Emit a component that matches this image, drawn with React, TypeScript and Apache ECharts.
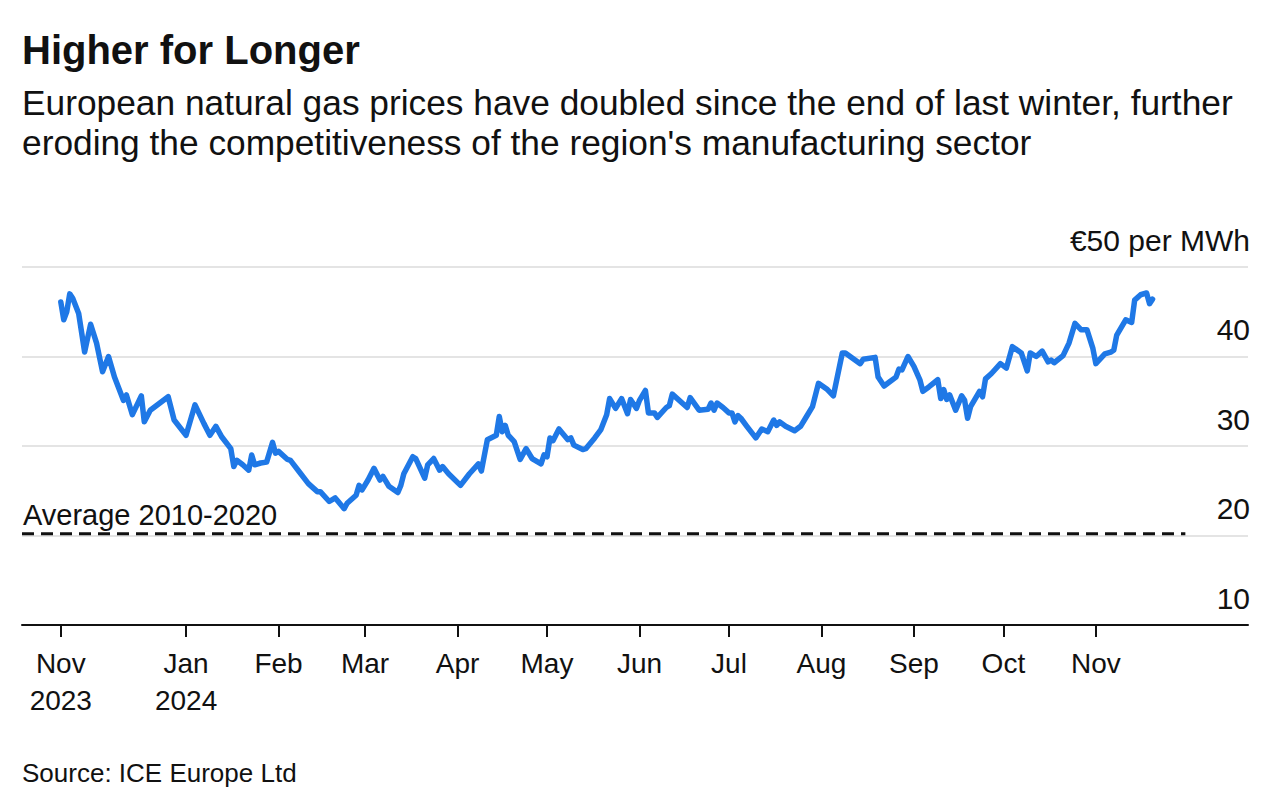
import React, { useEffect, useRef } from "react";
import * as echarts from "echarts";

const TITLE = "Higher for Longer";
const SUBTITLE_1 = "European natural gas prices have doubled since the end of last winter, further";
const SUBTITLE_2 = "eroding the competitiveness of the region's manufacturing sector";
const SOURCE = "Source: ICE Europe Ltd";
const AVERAGE_LABEL = "Average 2010-2020";

const dates = [
  "2023-11-20","2023-11-21","2023-11-22","2023-11-23","2023-11-24","2023-11-26","2023-11-28","2023-11-30",
  "2023-12-02","2023-12-04","2023-12-06","2023-12-08","2023-12-11","2023-12-12","2023-12-14","2023-12-17",
  "2023-12-18","2023-12-20","2023-12-26","2023-12-28",
  "2024-01-01","2024-01-04","2024-01-07","2024-01-09","2024-01-11","2024-01-13","2024-01-16","2024-01-17",
  "2024-01-18","2024-01-20","2024-01-22","2024-01-23","2024-01-24","2024-01-26","2024-01-28","2024-01-30","2024-01-31",
  "2024-02-01","2024-02-04","2024-02-05","2024-02-08","2024-02-11","2024-02-14","2024-02-15","2024-02-18",
  "2024-02-20","2024-02-21","2024-02-23","2024-02-24","2024-02-27","2024-02-28","2024-02-29",
  "2024-03-02","2024-03-04","2024-03-06","2024-03-07","2024-03-09","2024-03-12","2024-03-13","2024-03-14",
  "2024-03-17","2024-03-18","2024-03-21","2024-03-22","2024-03-24","2024-03-26","2024-03-27","2024-03-29",
  "2024-04-02","2024-04-05","2024-04-08","2024-04-09","2024-04-11","2024-04-14","2024-04-15","2024-04-16",
  "2024-04-17","2024-04-18","2024-04-20","2024-04-22","2024-04-24","2024-04-26","2024-04-29","2024-04-30",
  "2024-05-01","2024-05-02","2024-05-03","2024-05-05","2024-05-08","2024-05-09","2024-05-10","2024-05-13",
  "2024-05-14","2024-05-17","2024-05-19","2024-05-21","2024-05-22","2024-05-24","2024-05-26","2024-05-28",
  "2024-05-29","2024-05-31",
  "2024-06-01","2024-06-03","2024-06-04","2024-06-06","2024-06-07","2024-06-10","2024-06-11","2024-06-12",
  "2024-06-17","2024-06-18","2024-06-21","2024-06-24","2024-06-25","2024-06-26","2024-06-27","2024-06-29",
  "2024-07-01","2024-07-02","2024-07-03","2024-07-04","2024-07-05","2024-07-07","2024-07-10","2024-07-12",
  "2024-07-14","2024-07-16","2024-07-17","2024-07-18","2024-07-20","2024-07-23","2024-07-25","2024-07-27",
  "2024-07-29","2024-07-31",
  "2024-08-03","2024-08-05","2024-08-08","2024-08-09","2024-08-14","2024-08-15","2024-08-19","2024-08-20",
  "2024-08-22","2024-08-24","2024-08-26","2024-08-27","2024-08-28","2024-08-30",
  "2024-09-01","2024-09-03","2024-09-04","2024-09-06","2024-09-09","2024-09-10","2024-09-11","2024-09-12",
  "2024-09-13","2024-09-15","2024-09-17","2024-09-18","2024-09-19","2024-09-20","2024-09-23","2024-09-24",
  "2024-09-25","2024-09-27","2024-09-30",
  "2024-10-02","2024-10-04","2024-10-07","2024-10-09","2024-10-10","2024-10-12","2024-10-14","2024-10-16",
  "2024-10-17","2024-10-18","2024-10-21","2024-10-23","2024-10-25","2024-10-27","2024-10-29","2024-10-31",
  "2024-11-01","2024-11-04","2024-11-06","2024-11-07","2024-11-08","2024-11-11","2024-11-13","2024-11-14",
  "2024-11-16","2024-11-18","2024-11-19","2024-11-20",
];

const prices = [
  46.1,44.1,45.0,47.0,46.5,44.8,40.5,43.6,
  41.5,38.3,40.0,37.7,35.1,35.7,33.5,35.6,
  32.7,34.0,35.5,32.9,
  31.2,34.6,32.5,31.2,32.2,31.0,29.7,27.7,
  28.4,27.9,27.3,29.0,27.9,28.1,28.2,30.4,29.2,
  29.4,28.5,28.4,27.1,25.8,24.9,24.9,23.8,
  24.2,23.8,23.0,23.6,24.5,25.6,25.1,
  26.2,27.5,26.2,26.6,25.5,24.8,25.6,26.9,
  28.8,28.6,26.4,27.9,28.6,27.3,27.7,26.9,
  25.6,26.9,28.0,27.2,30.7,31.2,33.3,31.6,
  32.3,31.2,30.5,28.5,29.7,28.6,28.0,29.0,
  28.8,30.9,30.6,31.9,30.7,30.9,30.1,29.6,
  29.7,30.9,31.8,33.5,35.3,34.2,35.3,33.6,
  35.2,34.2,
  35.1,36.2,33.7,33.7,33.2,34.3,34.5,35.8,
  34.3,35.4,34.0,34.1,34.8,34.0,34.8,34.3,
  33.7,33.7,32.7,33.4,33.1,32.2,30.9,31.9,
  31.6,32.9,32.3,32.7,32.2,31.7,32.2,33.3,
  34.4,37.0,
  36.3,35.6,40.4,40.4,39.2,39.7,39.9,37.7,
  36.7,37.2,37.7,38.6,38.5,40.0,
  38.9,37.4,36.1,36.6,37.4,35.3,36.3,35.2,
  35.7,34.0,35.6,35.1,33.1,34.4,36.1,35.5,
  37.5,38.1,39.2,
  38.7,41.1,40.4,38.4,40.4,40.0,40.6,39.4,
  39.6,39.3,40.1,41.5,43.7,43.0,43.0,40.9,
  39.2,40.3,40.5,40.7,42.4,44.1,43.8,46.3,
  46.9,47.1,45.9,46.4,
];

// Average 2010-2020 reference level and the span of its dashed line
const averageLevel = 20.2;
const averageSpan = ["2023-11-07", "2024-12-01"];

// x-axis extent and month ticks
const xAxisMin = "2023-11-07";
const xAxisMax = "2024-12-22";
const tickDates = [
  "2023-11-20","2024-01-01","2024-02-01","2024-03-01","2024-04-01","2024-05-01",
  "2024-06-01","2024-07-01","2024-08-01","2024-09-01","2024-10-01","2024-11-01",
];
const tickLabels = [
  "Nov\n2023","Jan\n2024","Feb","Mar","Apr","May","Jun","Jul","Aug","Sep","Oct","Nov",
];

// y-axis
const yMin = 10;
const yMax = 50;
const yInterval = 10;
const yTopLabel = "€50 per MWh";

const FONT = "'Liberation Sans', Arial, Helvetica, sans-serif";

const ts = (s: string) => {
  const [y, m, d] = s.split("-").map(Number);
  return Date.UTC(y, m - 1, d);
};

export default function App() {
  const ref = useRef<HTMLDivElement>(null);

  useEffect(() => {
    if (!ref.current) return;
    const chart = echarts.init(ref.current, null, { renderer: "svg" });

    const tickTs = tickDates.map(ts);
    const labelFor = (v: number) => {
      const i = tickTs.findIndex((t) => Math.abs(t - v) < 1000);
      return i >= 0 ? tickLabels[i] : "";
    };

    const option: any = {
      animation: false,
      backgroundColor: "#ffffff",
      grid: { left: 22, right: 32, top: 267, bottom: 179, containLabel: false },
      xAxis: {
        type: "value",
        min: ts(xAxisMin),
        max: ts(xAxisMax),
        axisLine: { show: true, lineStyle: { color: "#111", width: 2 } },
        axisTick: {
          show: true,
          length: 12,
          lineStyle: { color: "#111", width: 2 },
          customValues: tickTs,
        },
        axisLabel: {
          customValues: tickTs,
          formatter: (v: number) => labelFor(v),
          fontFamily: FONT,
          fontSize: 28,
          color: "#111",
          lineHeight: 37,
          margin: 20,
          align: "center",
          verticalAlign: "top",
        },
        splitLine: { show: false },
      },
      yAxis: {
        type: "value",
        position: "right",
        min: yMin,
        max: yMax,
        interval: yInterval,
        axisLine: { show: false },
        axisTick: { show: false },
        splitLine: { show: true, lineStyle: { color: "#e4e4e4", width: 2 } },
        axisLabel: {
          inside: true,
          margin: -2,
          align: "right",
          verticalAlign: "bottom",
          padding: [0, 0, 12, 0],
          fontFamily: FONT,
          fontSize: 30,
          color: "#111",
          formatter: (v: number) => (v === yMax ? yTopLabel : String(v)),
        },
      },
      series: [
        {
          name: "Average",
          type: "line",
          data: averageSpan.map((d) => [ts(d), averageLevel]),
          symbol: "none",
          silent: true,
          lineStyle: { color: "#111", width: 3, type: [12, 7] },
          z: 2,
        },
        {
          name: "TTF",
          type: "line",
          data: dates.map((d, i) => [ts(d), prices[i]]),
          symbol: "none",
          lineStyle: { color: "#1f78e6", width: 5.5, join: "round", cap: "round" },
          z: 3,
        },
      ],
      graphic: [
        {
          type: "text",
          left: 22,
          top: 30,
          style: {
            text: TITLE,
            fontFamily: FONT,
            fontSize: 40,
            fontWeight: "bold",
            fill: "#111",
          },
        },
        {
          type: "text",
          left: 22,
          top: 85,
          style: { text: SUBTITLE_1, fontFamily: FONT, fontSize: 35.3, fill: "#111" },
        },
        {
          type: "text",
          left: 22,
          top: 125,
          style: { text: SUBTITLE_2, fontFamily: FONT, fontSize: 35.3, fill: "#111" },
        },
        {
          type: "text",
          left: 23,
          top: 500,
          style: { text: AVERAGE_LABEL, fontFamily: FONT, fontSize: 29, fill: "#111" },
        },
        {
          type: "text",
          left: 22,
          top: 760,
          style: { text: SOURCE, fontFamily: FONT, fontSize: 26, fill: "#111" },
        },
      ],
    };

    chart.setOption(option);
    return () => chart.dispose();
  }, []);

  return (
    <div
      ref={ref}
      style={{ position: "fixed", left: 0, top: 0, width: 1280, height: 804, background: "#fff" }}
    />
  );
}
